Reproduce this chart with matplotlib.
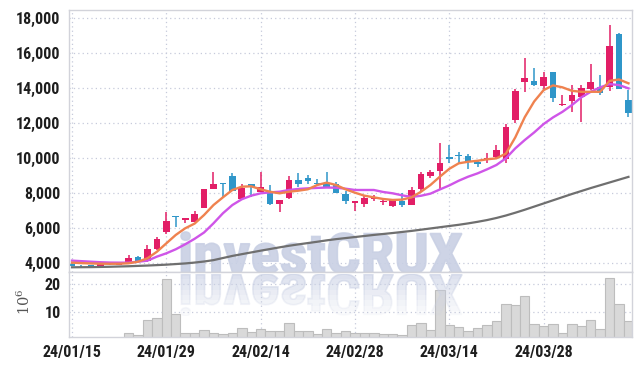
import matplotlib
matplotlib.use('Agg')
import numpy as np
import matplotlib.pyplot as plt
from matplotlib.patches import PathPatch, Rectangle
from matplotlib.textpath import TextPath
from matplotlib.font_manager import FontProperties
from matplotlib.transforms import Affine2D, IdentityTransform

# trading-day index 0..59, tick every 10 days
tick_pos = [0, 10, 20, 30, 40, 50]
tick_labels = ['24/01/15', '24/01/29', '24/02/14', '24/02/28', '24/03/14', '24/03/28']

opens = [3945, 3870, 3880, 3810, 3930, 3910, 4075, 4340, 4115, 4800,
         5790, 6720, 6490, 6370, 7180, 8260, 8570, 8990, 7690, 8530,
         8090, 8150, 7370, 7750, 8760, 8875, 8600, 8570, 8515, 7960,
         7445, 7400, 7690, 7480, 7290, 7560, 7350, 8230, 9000, 9290,
         10080, 10210, 10130, 9770, 9900, 10090, 9950, 12190, 14380, 14430,
         14160, 14940, 13050, 13290, 13520, 13970, 14065, 14100, 17100, 13330]
highs = [3990, 3900, 3900, 3970, 3990, 4090, 4460, 4420, 5045, 5485,
         6930, 6730, 6600, 7000, 8260, 9200, 8590, 9180, 8530, 8560,
         9200, 8475, 7640, 8990, 9140, 9030, 8800, 9235, 8660, 8130,
         7560, 7850, 7920, 7690, 7640, 8030, 8380, 9235, 9360, 10890,
         10760, 10340, 10245, 9900, 10320, 10760, 11960, 13940, 15715, 15140,
         14950, 14960, 13600, 14190, 14200, 15370, 14740, 17600, 17140, 13880]
lows = [3850, 3790, 3780, 3800, 3910, 3890, 4000, 4120, 4090, 4760,
        5690, 6060, 6285, 6340, 7140, 8240, 7805, 8130, 7680, 7770,
        8070, 7350, 6915, 7660, 8380, 8530, 8500, 8360, 8000, 7390,
        7005, 7200, 7570, 7310, 7200, 7240, 7330, 8150, 8870, 8230,
        9715, 9715, 9370, 9485, 9715, 10000, 9720, 12030, 13805, 14130,
        13900, 13200, 13020, 12650, 12060, 13900, 13620, 13860, 13940, 12340]
closes = [3865, 3830, 3790, 3960, 3990, 4060, 4290, 4130, 4800, 5370,
          6415, 6630, 6590, 6840, 8245, 8530, 8530, 8150, 8320, 8380,
          8380, 7370, 7620, 8760, 8530, 8720, 8530, 8380, 8035, 7540,
          7540, 7730, 7805, 7580, 7620, 7350, 8190, 9100, 9235, 9730,
          9945, 10110, 9800, 9655, 10000, 10475, 11800, 13860, 14570, 14190,
          14660, 13460, 13110, 13620, 14010, 14380, 13760, 16420, 13940, 12610]
# volume, millions of shares
volume = [0.3, 0.2, 0.3, 0.4, 0.3, 0.5, 2.1, 1.4, 6.9, 7.6,
          21.8, 9.0, 2.1, 2.1, 3.2, 2.4, 1.7, 2.1, 3.9, 2.5,
          3.6, 3.0, 3.0, 5.8, 3.0, 3.0, 1.8, 3.6, 2.1, 3.0,
          2.1, 2.1, 2.1, 1.7, 1.7, 1.4, 5.0, 5.8, 3.2, 17.8,
          5.0, 4.3, 3.0, 3.9, 5.0, 6.6, 12.7, 12.3, 15.7, 5.4,
          4.8, 5.4, 2.4, 5.4, 4.7, 6.9, 3.6, 22.2, 12.7, 6.5]
# moving averages
ma5 = [4035, 4010, 3990, 3975, 3970, 3975, 4000, 4090, 4285, 4660,
       5140, 5620, 6000, 6270, 6760, 7330, 7770, 8190, 8380, 8400,
       8230, 8090, 8000, 8090, 8150, 8230, 8475, 8610, 8475, 8230,
       8035, 7865, 7770, 7675, 7620, 7640, 7770, 8090, 8475, 8950,
       9400, 9715, 9805, 9860, 9945, 10000, 10270, 11200, 12350, 13250,
       13900, 14170, 14060, 13860, 13805, 13805, 13805, 14430, 14510, 14290]
ma10 = [4150, 4120, 4090, 4060, 4040, 4035, 4035, 4090, 4150, 4380,
        4570, 4800, 5085, 5400, 5760, 6285, 6860, 7330, 7660, 7865,
        8000, 8055, 8090, 8190, 8250, 8285, 8310, 8330, 8320, 8265,
        8190, 8190, 8190, 8075, 8000, 7885, 7790, 7860, 7980, 8220,
        8450, 8720, 8950, 9140, 9370, 9620, 10000, 10570, 11045, 11480,
        11960, 12340, 12660, 13045, 13485, 13805, 14060, 14245, 14190, 14000]
ma60 = [3770, 3775, 3780, 3790, 3800, 3815, 3830, 3850, 3870, 3895,
        3920, 3955, 3990, 4040, 4100, 4180, 4300, 4420, 4520, 4620,
        4720, 4815, 4910, 5000, 5080, 5155, 5230, 5310, 5380, 5440,
        5500, 5560, 5620, 5675, 5730, 5790, 5850, 5920, 5990, 6060,
        6130, 6200, 6280, 6370, 6470, 6590, 6730, 6890, 7060, 7240,
        7420, 7600, 7780, 7960, 8130, 8300, 8460, 8620, 8780, 8940]

UP = '#e21e66'
DOWN = '#2f96c9'
GRID = '#c6cadb'
SPINE = '#d2d3da'
FONTS = ['Roboto Condensed', 'Oswald', 'Liberation Sans Narrow', 'DejaVu Sans']

plt.rcParams['font.family'] = FONTS
plt.rcParams['mathtext.fontset'] = 'dejavuserif'

fig = plt.figure(figsize=(6.42, 3.66), dpi=100)
ax = fig.add_axes([0.1075, 0.2568, 0.877, 0.7158])
axv = fig.add_axes([0.1075, 0.0792, 0.877, 0.1776], sharex=ax)

x = np.arange(len(closes))
o = np.array(opens)
c = np.array(closes)
cols = [UP if cc >= oo else DOWN for oo, cc in zip(o, c)]

ax.vlines(x, lows, highs, colors=cols, lw=1.1, zorder=2)
body = np.maximum(np.abs(c - o), 40)
ax.bar(x, body, bottom=np.minimum(o, c), width=0.7, color=cols, zorder=2.5)

ax.plot(x, ma60, color='#6f6f6f', lw=1.6, zorder=3)
ax.plot(x, ma10, color='#cf55e8', lw=1.7, zorder=3.1)
ax.plot(x, ma5, color='#ef824f', lw=1.7, zorder=3.2)

axv.bar(x, volume, width=1.0, color='#d9d9d9', edgecolor='#bdbdbd', lw=0.8, zorder=2)

ax.set_xlim(-0.32, 59.38)
ax.set_ylim(3500, 18480)
ax.set_yticks(range(4000, 18001, 2000))
ax.set_yticklabels(['{:,}'.format(v) for v in range(4000, 18001, 2000)])
axv.set_ylim(0.77, 24.5)
axv.set_yticks([10, 20])
axv.set_xticks(tick_pos)
axv.set_xticklabels(tick_labels)
plt.setp(ax.get_xticklabels(), visible=False)
axv.set_ylabel(r'$10^6$', fontsize=10.5, color='#555555')
axv.yaxis.set_label_coords(-0.064, 0.55)

for a in (ax, axv):
    a.grid(True, linestyle=(0, (1, 2.5)), color=GRID, lw=0.9)
    a.set_axisbelow(True)
    a.tick_params(length=0, labelsize=11.5, colors='#1e1e1e', pad=6)
    for s in a.spines.values():
        s.set_color(SPINE)
        s.set_linewidth(1.0)
    for lab in a.get_xticklabels() + a.get_yticklabels():
        lab.set_fontweight('bold')

# watermark "investCRUX" and its faded reflection
fp = FontProperties(family=FONTS, weight='black')
tp = TextPath((0, 0), 'investCRUX', size=1, prop=fp)
vx0, vy0 = tp.vertices.min(axis=0)
vx1, vy1 = tp.vertices.max(axis=0)
H = 366
left, right, top_px, base_px = 178, 462, 232, 274
sx = (right - left) / (vx1 - vx0)
sy = (base_px - top_px) / (vy1 - vy0)
wm = '#c9d0e4'
tr = Affine2D().translate(-vx0, -vy0).scale(sx, sy).translate(left, H - base_px)
p = PathPatch(tr.transform_path(tp), facecolor=wm, edgecolor=wm, lw=1.2, alpha=0.9,
              transform=IdentityTransform(), zorder=1.5)
ax.add_patch(p)

trr = Affine2D().translate(-vx0, -vy0).scale(sx, -sy).translate(left, H - base_px)
refl = trr.transform_path(tp)
nb = 8
h_tot = base_px - top_px
for k in range(nb):
    y_top = H - base_px - k * h_tot / nb
    rp = PathPatch(refl, facecolor=wm, edgecolor=wm, lw=1.2, alpha=0.62 * (1 - k / nb),
                   transform=IdentityTransform(), zorder=3)
    axv.add_patch(rp)
    clip = Rectangle((0, y_top - h_tot / nb), 700, h_tot / nb,
                     transform=IdentityTransform(), facecolor='none')
    rp.set_clip_path(clip)

fig.savefig('out.png', dpi=100)
